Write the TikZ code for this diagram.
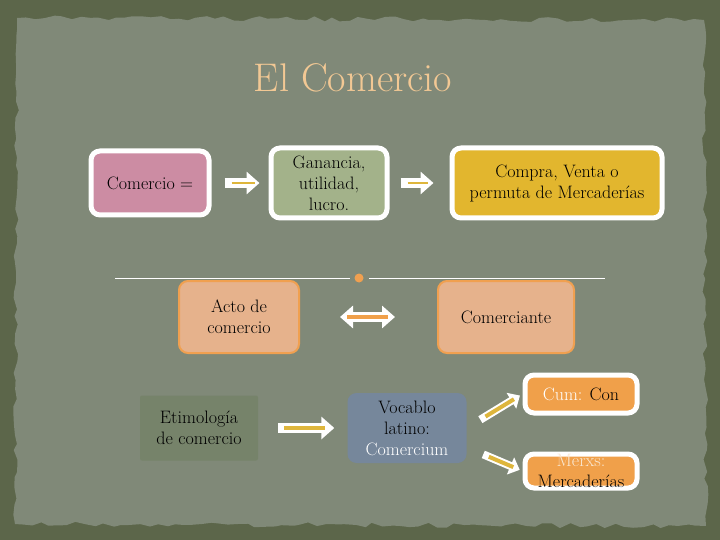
\documentclass[tikz,border=0pt]{standalone}
\usepackage{tikz}
\usetikzlibrary{arrows.meta,decorations.pathmorphing}

\definecolor{olivo}{RGB}{92,102,74}
\definecolor{papel}{RGB}{128,137,120}
\definecolor{titulo}{RGB}{242,200,148}
\definecolor{rosa}{RGB}{204,140,163}
\definecolor{verde}{RGB}{163,178,138}
\definecolor{oro}{RGB}{226,182,46}
\definecolor{durazno}{RGB}{230,178,140}
\definecolor{bordenaranja}{RGB}{240,160,80}
\definecolor{etimo}{RGB}{118,131,106}
\definecolor{azulgris}{RGB}{118,135,155}
\definecolor{naranjo}{RGB}{240,160,74}
\definecolor{amarillo}{RGB}{222,182,60}
\definecolor{crema}{RGB}{250,232,210}

\tikzset{
  caja/.style={rounded corners=9pt, align=center, inner sep=0pt,
    font=\fontsize{18}{21}\selectfont},
  blanca/.style={caja, draw=white, line width=5pt},
  naranja/.style={caja, draw=bordenaranja, line width=2pt, fill=durazno},
  flecha/.style={draw=white, line width=10pt, -{Triangle[length=13pt,width=22pt]}},
  doble/.style={draw=white, line width=10pt,
    {Triangle[length=13pt,width=22pt]}-{Triangle[length=13pt,width=22pt]}},
  linea/.style={draw=amarillo, line width=2.5pt},
}

\begin{document}
\begin{tikzpicture}[x=1pt,y=-1pt]
\useasboundingbox (0,0) rectangle (720,540);
\fill[olivo] (0,0) rectangle (720,540);
\pgfmathsetseed{7}
\fill[papel, decorate, decoration={random steps,segment length=9pt,amplitude=2.5pt}]
  (17,18) -- (704,20) -- (706,526) -- (15,524) -- cycle;

% titulo
\node[text=titulo, font=\fontsize{40}{42}\selectfont] (titulo) at (353,78) {El Comercio};

% fila de arriba
\node[blanca, fill=rosa, minimum width=118pt, minimum height=64pt] (comercio) at (150,183) {Comercio =};
\node[blanca, fill=verde, minimum width=116pt, minimum height=70pt] (ganancia) at (329,183) {Ganancia,\\utilidad,\\lucro.};
\node[blanca, fill=oro, minimum width=210pt, minimum height=70pt] (compra) at (557,183) {Compra, Venta o\\permuta de Mercader\'ias};

\draw[flecha, shorten <=13pt, shorten >=9pt] (comercio) -- (ganancia);
\draw[linea, shorten <=20pt, shorten >=14pt] (comercio) -- (ganancia);
\draw[flecha, shorten <=11pt, shorten >=16pt] (ganancia) -- (compra);
\draw[linea, shorten <=18pt, shorten >=22pt] (ganancia) -- (compra);

% separador
\draw[white, line width=0.8pt] (115,278) -- (350,278);
\draw[white, line width=0.8pt] (369,278) -- (605,278);
\fill[bordenaranja] (359,278) circle (4.5pt);

% fila del medio
\node[naranja, minimum width=120pt, minimum height=72pt] (acto) at (239,317) {Acto de\\comercio};
\node[naranja, minimum width=136pt, minimum height=72pt] (comerciante) at (506,317) {Comerciante};

\draw[doble, shorten <=40pt, shorten >=42pt] (acto) -- (comerciante);
\draw[draw=naranjo, line width=4pt, shorten <=47pt, shorten >=49pt] (acto) -- (comerciante);

% fila de abajo
\node[caja, fill=etimo, rounded corners=2pt, minimum width=118pt, minimum height=65pt] (etimo) at (199,428) {Etimolog\'ia\\de comercio};
\node[caja, fill=azulgris, minimum width=119pt, minimum height=70pt] (vocablo) at (407,428) {Vocablo\\latino:\\\textcolor{white}{Comercium}};
\node[blanca, fill=naranjo, minimum width=112pt, minimum height=38pt] (cum) at (581,394) {\textcolor{white}{Cum:} Con};
\node[blanca, fill=naranjo, minimum width=112pt, minimum height=34pt] (merxs) at (581,471) {\textcolor{crema}{Merxs:}\\Mercader\'ias};

\draw[flecha, shorten <=20pt, shorten >=13pt] (etimo) -- (vocablo);
\draw[linea, line width=4pt, shorten <=26pt, shorten >=22pt] (etimo) -- (vocablo);

\draw[flecha, line width=8pt, -{Triangle[length=10pt,width=18pt]}, shorten <=16pt, shorten >=3pt] (vocablo.east) -- (cum.west);
\draw[linea, line width=4pt, shorten <=22pt, shorten >=10pt] (vocablo.east) -- (cum.west);
\draw[flecha, line width=8pt, -{Triangle[length=10pt,width=18pt]}, shorten <=18pt, shorten >=3pt] (vocablo.-18) -- (merxs.west);
\draw[linea, line width=4pt, shorten <=24pt, shorten >=10pt] (vocablo.-18) -- (merxs.west);
\end{tikzpicture}
\end{document}
